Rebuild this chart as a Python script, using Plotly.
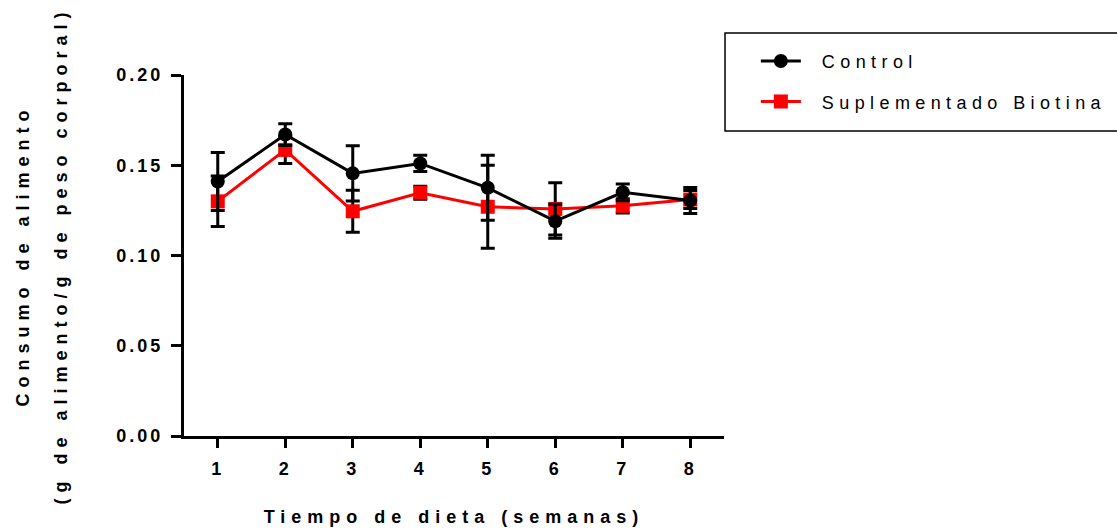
import plotly.graph_objects as go

weeks = [1, 2, 3, 4, 5, 6, 7, 8]
control = [0.141, 0.167, 0.1455, 0.151, 0.1375, 0.119, 0.135, 0.1305]
control_err = [0.016, 0.006, 0.0153, 0.0045, 0.018, 0.0094, 0.0046, 0.0072]
biotina = [0.130, 0.1585, 0.1245, 0.1348, 0.127, 0.1258, 0.1275, 0.131]
biotina_err = [0.014, 0.0075, 0.0116, 0.0036, 0.023, 0.0145, 0.0039, 0.005]
y_ticks = [0.0, 0.05, 0.10, 0.15, 0.20]
y_ticklabels = ["0.00", "0.05", "0.10", "0.15", "0.20"]

FONT = "Liberation Sans, Arial, sans-serif"

fig = go.Figure()
fig.add_trace(go.Scatter(
    x=weeks, y=biotina, name="Suplementado Biotina", mode="lines+markers",
    line=dict(color="#ff0000", width=3),
    marker=dict(symbol="square", size=14, color="#ff0000"),
    error_y=dict(type="data", array=biotina_err, visible=True, color="black", thickness=3, width=7),
    legendgroup="b", legendrank=2,
))
fig.add_trace(go.Scatter(
    x=weeks, y=control, name="Control", mode="lines+markers",
    line=dict(color="black", width=3),
    marker=dict(symbol="circle", size=14, color="black"),
    error_y=dict(type="data", array=control_err, visible=True, color="black", thickness=3, width=7),
    legendgroup="a", legendrank=1,
))

fig.update_layout(
    width=1117, height=529,
    margin=dict(l=184, r=393, t=75, b=93, autoexpand=False),
    plot_bgcolor="white", paper_bgcolor="white",
    font=dict(family=FONT, color="black"),
    showlegend=True,
    legend=dict(x=1.059, y=1.089, xanchor="left", yanchor="top",
                font=dict(family=FONT, size=18, color="black"),
                tracegroupgap=14, bgcolor="rgba(0,0,0,0)", borderwidth=0,
                itemwidth=40),
    shapes=[dict(type="rect", xref="paper", yref="paper",
                 x0=1.0019, x1=1.76, y0=0.845, y1=1.116,
                 line=dict(color="black", width=1.5))],
)
fig.update_xaxes(
    range=[0.5, 8.5], tickvals=weeks, ticktext=[str(w) for w in weeks],
    showline=True, linecolor="black", linewidth=3, showgrid=False, zeroline=False,
    ticks="outside", ticklen=9, tickwidth=3, tickcolor="black",
    tickfont=dict(family=FONT, size=18, color="black", weight="bold"),
    ticklabelstandoff=5, automargin=False,
    title=dict(text="Tiempo de dieta (semanas)", standoff=33,
               font=dict(family=FONT, size=18, color="black", weight="bold")),
)
fig.update_yaxes(
    range=[0, 0.2], tickvals=y_ticks, ticktext=y_ticklabels,
    showline=True, linecolor="black", linewidth=3, showgrid=False, zeroline=False,
    ticks="outside", ticklen=10, tickwidth=3, tickcolor="black",
    tickfont=dict(family=FONT, size=18, color="black", weight="bold"),
    ticklabelstandoff=4, automargin=False,
    title=dict(text="<span style='font-size:18px'>Consumo de alimento</span><br><br>"
                    "<span style='font-size:18px'>(g de alimento/g de peso corporal)</span>",
               standoff=58,
               font=dict(family=FONT, size=14.6, color="black", weight="bold")),
)

post = """
document.body.style.margin = '0';
var gd = document.getElementById('{plot_id}');
function ls(sel, v){ gd.querySelectorAll(sel).forEach(function(e){ e.style.letterSpacing = v; }); }
ls('.ytick text', '3px');
ls('.xtick text', '3px');
ls('.g-xtitle text', '6px');
ls('.g-ytitle text', '6px');
ls('.legendtext', '5.4px');
gd.querySelectorAll('.legend [clip-path]').forEach(function(e){ e.removeAttribute('clip-path'); });
gd.querySelectorAll('.legendtext').forEach(function(e){
  e.setAttribute('x', (parseFloat(e.getAttribute('x')) || 0) + 16);
});
"""

fig.write_html("out.html", post_script=post, config={"displayModeBar": False})
